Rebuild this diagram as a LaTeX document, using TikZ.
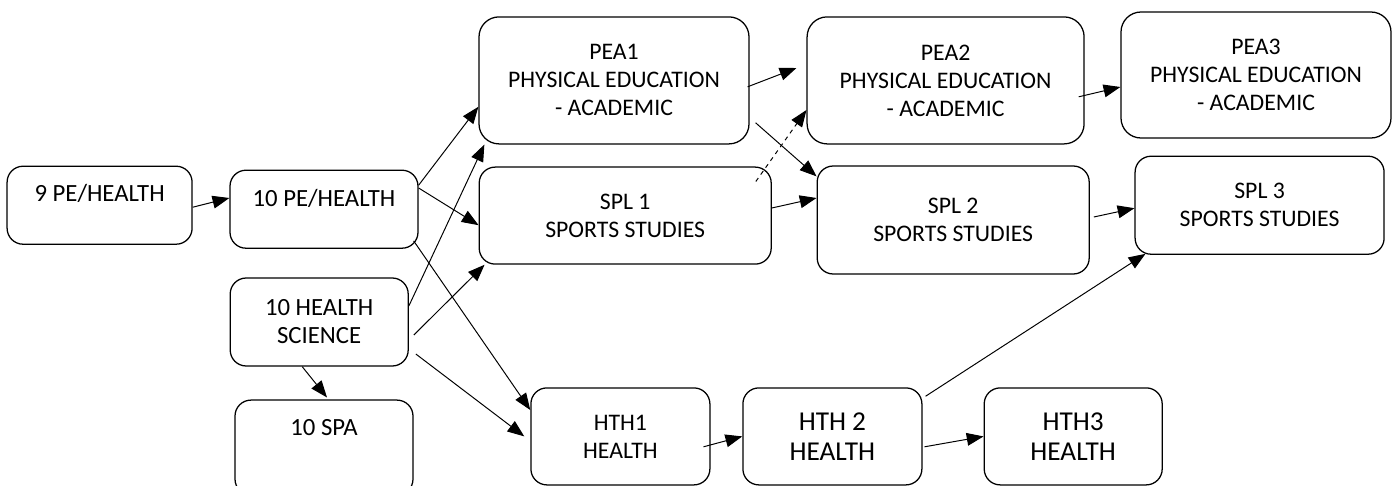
\documentclass[tikz,border=0pt]{standalone}
\usepackage{fontspec}
\setmainfont{Carlito}
\usetikzlibrary{arrows.meta}

\begin{document}
\begin{tikzpicture}[
    course/.style={shape=rectangle,draw=black,line width=0.9pt,rounded corners=0.4cm,align=center,inner sep=0pt,font=\fontsize{16.9}{19.9}\selectfont},
    big/.style={font=\fontsize{17.6}{19.9}\selectfont},
    bigger/.style={font=\fontsize{19.4}{21.3}\selectfont},
    >={Triangle[length=0.42cm,width=0.32cm]}
    ]
        \useasboundingbox (0,0) rectangle (34.8,-12.15);
        \node[course,big,minimum width=4.625cm,minimum height=1.95cm,text depth=0.6cm] (pe9) at (2.49,-5.13) {9 PE/HEALTH};
        \node[course,big,minimum width=4.7cm,minimum height=1.95cm,text depth=0.55cm] (pe10) at (8.1,-5.23) {10 PE/HEALTH};
        \node[course,big,minimum width=4.45cm,minimum height=2.2cm] (hsci10) at (7.98,-8.05) {10 HEALTH\\SCIENCE};
        \node[course,big,minimum width=4.45cm,minimum height=2.375cm,text depth=1.0cm] (spa10) at (8.1,-11.19) {10 SPA};
        \node[course,rounded corners=0.5cm,minimum width=6.75cm,minimum height=3.175cm] (pea1) at (15.35,-2.01) {PEA1\\PHYSICAL EDUCATION\\- ACADEMIC};
        \node[course,minimum width=7.3cm,minimum height=2.425cm] (spl1) at (15.63,-5.39) {SPL 1\\SPORTS STUDIES};
        \node[course,rounded corners=0.5cm,minimum width=6.925cm,minimum height=3.175cm] (pea2) at (23.64,-2.01) {PEA2\\PHYSICAL EDUCATION\\- ACADEMIC};
        \node[course,rounded corners=0.5cm,minimum width=6.75cm,minimum height=3.15cm] (pea3) at (31.4,-1.875) {PEA3\\PHYSICAL EDUCATION\\- ACADEMIC};
        \node[course,minimum width=6.8cm,minimum height=2.7cm] (spl2) at (23.83,-5.5) {SPL 2\\SPORTS STUDIES};
        \node[course,minimum width=6.225cm,minimum height=2.45cm] (spl3) at (31.49,-5.13) {SPL 3\\SPORTS STUDIES};
        \node[course,minimum width=4.475cm,minimum height=2.425cm] (hth1) at (15.51,-10.91) {HTH1\\HEALTH};
        \node[course,bigger,minimum width=4.475cm,minimum height=2.425cm] (hth2) at (20.81,-10.91) {HTH 2\\HEALTH};
        \node[course,bigger,minimum width=4.45cm,minimum height=2.425cm] (hth3) at (26.83,-10.91) {HTH3\\HEALTH};

        \path[->,line width=0.7pt]
        ([yshift=-0.05cm]pe9.east) edge ([yshift=0.28cm]pe10.west)
        ([yshift=0.6cm]pe10.east) edge ([yshift=-0.66cm]pea1.west)
        ([yshift=0.53cm]pe10.east) edge ([yshift=-0.24cm]spl1.west)
        ([xshift=-0.125cm,yshift=0.2cm]pe10.south east) edge ([yshift=0.66cm]hth1.west)
        ([yshift=0.4cm]hsci10.east) edge ([xshift=0.15cm]pea1.south west)
        ([xshift=0.125cm,yshift=-0.325cm]hsci10.east) edge ([xshift=0.15cm]spl1.south west)
        ([xshift=0.175cm,yshift=-0.8cm]hsci10.east) edge ([xshift=-0.15cm]hth1.west)
        ([xshift=-0.425cm]hsci10.south) edge ([xshift=0.075cm,yshift=0.05cm]spa10.north)
        ([xshift=-0.05cm,yshift=-0.16cm]pea1.east) edge ([xshift=-0.25cm,yshift=0.31cm]pea2.west)
        ([xshift=0.15cm,yshift=-1.06cm]pea1.east) edge ([yshift=-0.275cm]spl2.north west)
        ([yshift=0.19cm]spl1.east) edge ([yshift=0.55cm]spl2.west)
        ([xshift=-0.15cm,yshift=-0.41cm]pea2.east) edge ([yshift=-0.3cm]pea3.west)
        ([xshift=0.1cm,yshift=0.075cm]spl2.east) edge ([yshift=-0.075cm]spl3.west)
        ([xshift=0.075cm,yshift=-0.225cm]hth2.north east) edge ([xshift=0.275cm,yshift=0.025cm]spl3.south west)
        ([xshift=-0.175cm,yshift=-0.26cm]hth1.east) edge (hth2.west)
        ([xshift=0.05cm,yshift=-0.26cm]hth2.east) edge (hth3.west)
        ;

        \path[->,line width=0.7pt,dashed]
        ([xshift=-0.4cm,yshift=-0.375cm]spl1.north east) edge ([yshift=-0.74cm]pea2.west);
        \end{tikzpicture}
\end{document}
